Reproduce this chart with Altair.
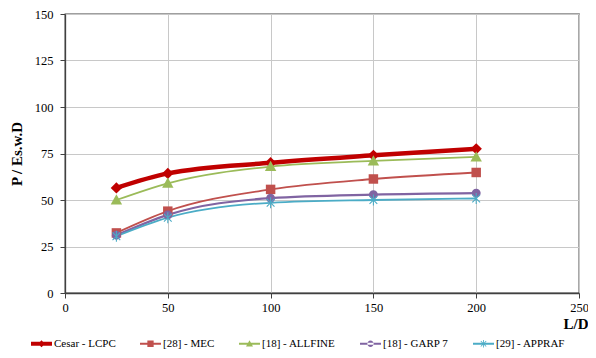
import math
import altair as alt
import pandas as pd

# ---- data ----
series = ["Cesar - LCPC", "[28] - MEC", "[18] - ALLFINE", "[18] - GARP 7", "[29] - APPRAF"]
ld = [25, 50, 100, 150, 200]
cesar = [56.5, 64.3, 70.0, 74.0, 77.5]
mec = [32.3, 44.0, 55.7, 61.3, 64.8]
allfine = [50.0, 59.0, 68.0, 71.0, 73.2]
garp = [31.0, 42.0, 51.0, 52.9, 53.7]
appraf = [30.5, 40.5, 48.5, 50.0, 50.8]
colors = ["#C00000", "#C0504D", "#9BBB59", "#8064A2", "#4BACC6"]

values = [cesar, mec, allfine, garp, appraf]
rows = []
for s, vals in zip(series, values):
    for x, y in zip(ld, vals):
        rows.append({"series": s, "ld": x, "p": y})
df = pd.DataFrame(rows)

FONT = "Liberation Serif"


# ---- marker paths ----
def rect(cx, cy, half_len, half_w, ang):
    ca, sa = math.cos(ang), math.sin(ang)
    pts = []
    for dx, dy in [(-half_len, -half_w), (half_len, -half_w), (half_len, half_w), (-half_len, half_w)]:
        pts.append((cx + dx * ca - dy * sa, cy + dx * sa + dy * ca))
    return "M" + "L".join(f"{px:.3f},{py:.3f}" for px, py in pts) + "Z"


def asterisk(scale, w):
    return "".join(rect(0, 0, scale, w, a) for a in (math.pi / 2, math.pi / 4, 3 * math.pi / 4))


def diamond(s):
    return f"M0,{-s}L{s},0L0,{s}L{-s},0Z"


def square(s):
    return f"M{-s},{-s}L{s},{-s}L{s},{s}L{-s},{s}Z"


def triangle(s):
    return f"M0,{-s}L{s},{s * 0.8}L{-s},{s * 0.8}Z"


def circle(s):
    return f"M{-s},0A{s},{s} 0 1,0 {s},0A{s},{s} 0 1,0 {-s},0Z"


point_shapes = [diamond(1), square(1), triangle(1), circle(1), asterisk(1, 0.1)]
point_sizes = [130, 90, 130, 80, 120]
line_widths = [4.5, 1.8, 1.8, 2.2, 1.8]

# legend: line segment + marker (coords relative to a 7px box)
line_half = [0.6, 0.3, 0.3, 0.3, 0.3]
leg_markers = [diamond(1.0), square(0.9), triangle(1.0), circle(0.9), asterisk(1.1, 0.12)]
legend_shapes = [rect(0, 0, 3.0, lh, 0) + m for lh, m in zip(line_half, leg_markers)]

xs = alt.X("ld:Q", scale=alt.Scale(domain=[0, 250], nice=False, zero=True),
           axis=alt.Axis(values=[0, 50, 100, 150, 200, 250], title="L/D",
                         titleAlign="right", titleX=523, titleY=30, titleBaseline="middle",
                         titleFontSize=15, titleFontWeight="bold", labelPadding=3,
                         labelFlush=False, labelFont=FONT, titleFont=FONT))
ys = alt.Y("p:Q", scale=alt.Scale(domain=[0, 150], nice=False, zero=True),
           axis=alt.Axis(values=[0, 25, 50, 75, 100, 125, 150], title="P / Es.w.D",
                         titleFontSize=15, titleFontWeight="bold", titlePadding=10,
                         labelPadding=7, labelFont=FONT, titleFont=FONT))

base = alt.Chart(df)

layers = []
for s, lw, c in zip(series, line_widths, colors):
    layers.append(
        base.transform_filter(alt.datum.series == s)
        .mark_line(interpolate="monotone", strokeWidth=lw, color=c)
        .encode(x=xs, y=ys)
    )

for s, shp, sz, c in zip(series, point_shapes, point_sizes, colors):
    layers.append(
        base.transform_filter(alt.datum.series == s)
        .mark_point(filled=True, opacity=1, shape=shp, size=sz, color=c)
        .encode(x=xs, y=ys)
    )

# legend-only layer: no rows survive the filter, entries come from the explicit scale domains
leg = base.transform_filter("false").mark_point(filled=True, opacity=1).encode(
    x=xs, y=ys,
    color=alt.Color("series:N", scale=alt.Scale(domain=series, range=colors),
                    legend=alt.Legend(title=None, orient="none", direction="horizontal",
                                      legendX=-29, legendY=324, padding=0,
                                      symbolOpacity=1, symbolSize=49, symbolStrokeWidth=0,
                                      labelOffset=7, columnPadding=24, columns=5,
                                      labelFont=FONT, labelFontSize=11,
                                      labelColor="#000000")),
    shape=alt.Shape("series:N", scale=alt.Scale(domain=series, range=legend_shapes)),
)
layers.append(leg)

chart = alt.layer(*layers).properties(
    width=514, height=279,
    autosize=alt.AutoSizeParams(type="none"),
    padding={"left": 57, "top": 6, "right": 9, "bottom": 57},
).configure_view(
    stroke="#404040", strokeWidth=1.3
).configure_axis(
    labelFont=FONT, titleFont=FONT, labelFontSize=12.5,
    labelColor="#000000", titleColor="#000000", gridColor="#C8C8C8", gridWidth=1,
    domainColor="#404040", domainWidth=1.3, tickColor="#404040", tickSize=5
)

chart.save("out.html", embed_options={"renderer": "svg", "actions": False})
